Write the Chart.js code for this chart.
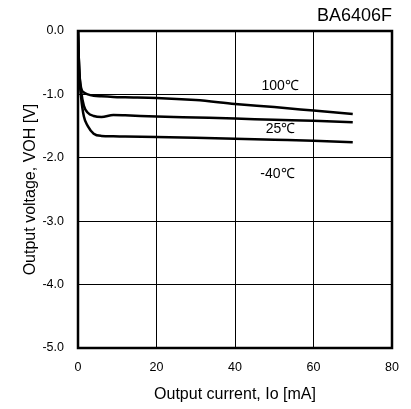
<!DOCTYPE html>
<html>
<head>
<meta charset="utf-8">
<script src="https://cdn.jsdelivr.net/npm/chart.js@4.4.1/dist/chart.umd.min.js"></script>
<style>
  html, body { margin: 0; padding: 0; background: #fff; }
  #wrap { width: 411px; height: 409px; }
</style>
</head>
<body>
<div id="wrap"><canvas id="chart" width="411" height="409"></canvas></div>
<script>
// output current [mA]
const current = [0, 0.3, 0.8, 1.5, 2.5, 4, 6, 9, 12, 20, 30, 40, 50, 60, 70];
// output voltage VOH [V]
const voh100 = [0, -0.6, -0.9, -0.97, -1.0, -1.02, -1.03, -1.04, -1.045, -1.055, -1.09, -1.15, -1.2, -1.255, -1.31];
const voh25 = [0, -0.6, -0.95, -1.18, -1.29, -1.34, -1.355, -1.325, -1.33, -1.35, -1.365, -1.38, -1.4, -1.415, -1.44];
const vohM40 = [0, -0.65, -1.05, -1.35, -1.5, -1.62, -1.655, -1.66, -1.665, -1.67, -1.685, -1.7, -1.715, -1.73, -1.755];
const seriesNames = ['100℃', '25℃', '-40℃'];
// where each curve label sits, in data units
const labelX = [51.5, 51.6, 50.8];
const labelY = [-0.87, -1.55, -2.25];
const xTicks = [0, 20, 40, 60, 80];
const yTicks = [0, -1, -2, -3, -4, -5];

Chart.defaults.font.family = 'Arial, "Liberation Sans", sans-serif';
Chart.defaults.color = '#000';

function pts(ys) {
    return current.map((x, i) => ({ x: x, y: ys[i] }));
}

const extras = {
    id: 'extras',
    afterDatasetsDraw(chart) {
        const ctx = chart.ctx;
        const a = chart.chartArea;
        const xs = chart.scales.x, ys = chart.scales.y;
        ctx.save();
        ctx.strokeStyle = '#000';
        ctx.lineWidth = 2.5;
        ctx.strokeRect(a.left, a.top, a.right - a.left, a.bottom - a.top);
        ctx.fillStyle = '#000';
        ctx.font = '14px Arial, "Liberation Sans", sans-serif';
        ctx.textAlign = 'center';
        ctx.textBaseline = 'middle';
        seriesNames.forEach((n, i) => {
            ctx.fillText(n, xs.getPixelForValue(labelX[i]), ys.getPixelForValue(labelY[i]));
        });
        ctx.font = '18px Arial, "Liberation Sans", sans-serif';
        ctx.textAlign = 'right';
        ctx.textBaseline = 'alphabetic';
        ctx.fillText('BA6406F', a.right, 21);
        ctx.restore();
    }
};

const lineStyle = { borderColor: '#000', borderWidth: 2.5, pointRadius: 0, cubicInterpolationMode: 'monotone', fill: false };

new Chart(document.getElementById('chart'), {
    type: 'line',
    data: {
        datasets: [
            Object.assign({ label: seriesNames[0], data: pts(voh100) }, lineStyle),
            Object.assign({ label: seriesNames[1], data: pts(voh25) }, lineStyle),
            Object.assign({ label: seriesNames[2], data: pts(vohM40) }, lineStyle)
        ]
    },
    options: {
        responsive: false,
        animation: false,
        layout: { padding: { top: 31, right: 19, left: 0, bottom: 0 } },
        plugins: { legend: { display: false }, tooltip: { enabled: false } },
        scales: {
            x: {
                type: 'linear', min: 0, max: 80,
                afterBuildTicks: s => { s.ticks = xTicks.map(v => ({ value: v })); },
                afterFit: s => { s.height = 61; },
                grid: { color: '#000', lineWidth: 1, drawTicks: false },
                border: { display: false },
                ticks: { font: { size: 12.5 }, padding: 12 },
                title: { display: true, text: 'Output current, Io [mA]', font: { size: 16 }, padding: 5 }
            },
            y: {
                type: 'linear', min: -5, max: 0,
                afterBuildTicks: s => { s.ticks = yTicks.map(v => ({ value: v })); },
                afterFit: s => { s.width = 78; },
                grid: { color: '#000', lineWidth: 1, drawTicks: false },
                border: { display: false },
                ticks: { font: { size: 12.5 }, padding: 14, callback: v => v.toFixed(1) },
                title: { display: true, text: 'Output voltage, VOH [V]', font: { size: 16 }, padding: 21 }
            }
        }
    },
    plugins: [extras]
});
</script>
</body>
</html>
